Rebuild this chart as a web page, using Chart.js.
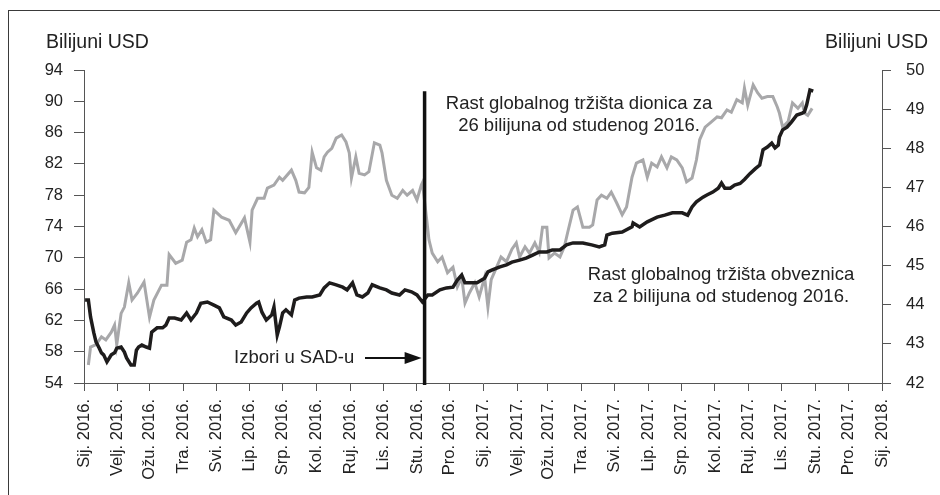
<!DOCTYPE html>
<html><head><meta charset="utf-8">
<script src="https://cdn.jsdelivr.net/npm/chart.js@4"></script>
<style>
html,body{margin:0;padding:0;background:#fff;overflow:hidden}
#wrap{position:relative;width:940px;height:495px;overflow:hidden}
#frame{position:absolute;left:8px;top:10px;width:1000px;height:600px;border:1.5px solid #3a3a3a;box-sizing:border-box}
canvas{position:absolute;left:0;top:0}
</style></head><body>
<div id="wrap"><div id="frame"></div><canvas id="c" width="940" height="495"></canvas></div>
<script>
// Month tick labels (Croatian) and their day offsets from 1 Jan 2016
const monthLabels = ["Sij. 2016.","Velj. 2016.","Ožu. 2016.","Tra. 2016.","Svi. 2016.","Lip. 2016.","Srp. 2016.","Kol. 2016.","Ruj. 2016.","Lis. 2016.","Stu. 2016.","Pro. 2016.",
  "Sij. 2017.","Velj. 2017.","Ožu. 2017.","Tra. 2017.","Svi. 2017.","Lip. 2017.","Srp. 2017.","Kol. 2017.","Ruj. 2017.","Lis. 2017.","Stu. 2017.","Pro. 2017.","Sij. 2018."];
const monthStartDays = [0,31,60,91,121,152,182,213,244,274,305,335,366,397,425,456,486,517,547,578,609,639,670,700,731];
const electionDay = 312; // 8 Nov 2016

// Global stock market (left axis, trillions USD)
const stockDays = [4,6,11,16,20,25,28,30,34,37,41,44,49,55,60,64,71,76,78,84,90,94,98,101,104,108,112,116,119,126,133,139,147,152,154,159,165,168,174,179,182,190,194,197,202,206,209,213,217,220,223,227,231,236,240,243,245,249,252,257,261,266,271,273,277,282,287,292,296,301,305,309,310,314,316,319,324,328,333,338,342,346,349,353,358,362,367,370,373,378,382,387,392,396,399,404,408,413,417,420,424,426,431,436,440,443,448,452,457,463,466,470,474,479,483,488,493,497,502,506,512,516,520,525,529,534,538,543,548,552,557,561,564,569,575,580,584,589,593,598,603,605,608,613,617,621,626,631,635,637,640,645,649,654,658,660,663,667];
const stockValues = [56.3,58.6,58.9,59.9,59.5,60.5,61.4,58.9,62.9,63.7,66.8,64.6,65.5,66.9,62.4,64.6,66.5,66.5,70.4,69.3,69.7,72.0,72.3,73.8,72.7,73.6,72.0,72.3,76.1,75.2,74.8,73.2,75.1,72.0,76.1,77.6,77.6,78.9,79.3,80.3,79.9,81.2,79.9,78.4,78.3,79.0,83.5,81.5,81.2,82.9,83.5,84.0,85.3,85.7,84.8,83.4,80.2,82.9,80.8,80.6,81.0,84.7,84.4,83.4,79.9,78.0,77.6,78.6,78.0,78.6,77.4,79.3,79.6,74.8,72.3,70.6,69.5,70.1,68.1,68.8,66.3,67.5,64.2,65.5,66.8,65.0,67.5,63.7,67.2,68.8,70.1,69.5,71.1,71.9,70.1,71.4,70.6,71.9,70.7,73.9,73.9,70.0,70.6,70.1,71.4,73.2,76.1,76.5,73.9,73.9,74.2,77.4,78.0,77.6,78.4,77.0,75.5,76.5,80.3,82.1,82.5,80.3,82.1,81.6,82.9,81.5,82.9,82.5,81.5,79.7,80.2,82.5,85.1,86.7,87.4,88.0,87.9,88.9,88.6,90.2,89.8,91.7,89.5,92.1,91.1,90.4,90.6,90.6,89.3,88.5,86.7,87.4,89.8,89.1,89.8,88.5,88.2,89.1];

// Global bond market (right axis, trillions USD)
const bondDays = [1,4,6,9,11,14,16,18,21,25,28,30,34,37,39,43,46,48,50,53,57,60,62,67,72,75,78,83,89,94,98,103,107,113,119,124,128,135,139,144,149,153,158,160,163,167,172,174,177,179,182,185,190,193,197,204,209,216,220,225,231,237,241,246,250,255,260,264,271,277,282,289,294,300,305,310,315,319,326,332,338,342,346,349,353,360,367,370,374,381,387,392,399,405,411,417,424,429,436,442,448,457,465,472,477,479,484,493,502,503,509,516,525,532,539,548,553,557,561,567,571,576,581,584,587,592,596,601,605,610,615,619,622,626,630,633,636,637,640,644,648,653,658,660,662,665,668];
const bondValues = [44.12,44.12,43.69,43.28,43.05,42.89,42.77,42.72,42.54,42.72,42.77,42.89,42.92,42.79,42.64,42.46,42.46,42.84,42.92,42.97,42.92,42.89,43.30,43.41,43.41,43.48,43.66,43.66,43.61,43.79,43.61,43.79,44.04,44.07,43.99,43.92,43.69,43.61,43.48,43.56,43.79,43.92,44.04,44.07,43.81,43.61,43.74,43.94,43.23,43.43,43.79,43.87,43.74,44.12,44.17,44.20,44.20,44.25,44.43,44.56,44.51,44.45,44.38,44.56,44.25,44.20,44.30,44.51,44.43,44.38,44.30,44.25,44.38,44.33,44.25,44.07,44.25,44.25,44.38,44.43,44.45,44.63,44.76,44.56,44.56,44.56,44.68,44.84,44.89,44.97,45.02,45.09,45.14,45.19,45.27,45.35,45.35,45.40,45.40,45.53,45.58,45.58,45.53,45.48,45.53,45.78,45.83,45.86,45.99,46.09,45.99,46.12,46.24,46.29,46.35,46.35,46.29,46.50,46.63,46.75,46.81,46.88,46.98,47.11,46.98,46.98,47.06,47.10,47.20,47.35,47.48,47.57,47.96,48.03,48.13,48.01,48.08,48.29,48.47,48.54,48.67,48.85,48.90,48.93,49.11,49.49,49.46];

if (stockDays.length !== stockValues.length) throw new Error('stock length mismatch ' + stockDays.length + ' ' + stockValues.length);
if (bondDays.length !== bondValues.length) throw new Error('bond length mismatch ' + bondDays.length + ' ' + bondValues.length);

const FONT = '"Liberation Sans", Arial, Helvetica, sans-serif';
const TXT = '#222';
const AX = '#555';

const annot = {
  id: 'annot',
  afterDatasetsDraw(chart) {
    const ctx = chart.ctx, xs = chart.scales.x, yL = chart.scales.yL;
    const ex = xs.getPixelForValue(electionDay);
    ctx.save();
    ctx.strokeStyle = '#111';
    ctx.lineWidth = 3.5;
    ctx.beginPath();
    ctx.moveTo(ex, yL.getPixelForValue(91.3));
    ctx.lineTo(ex, chart.chartArea.bottom + 2);
    ctx.stroke();
    // arrow pointing at the election line
    const ay = yL.getPixelForValue(57.2);
    const tip = ex - 3;
    ctx.lineWidth = 2;
    ctx.beginPath();
    ctx.moveTo(365, ay);
    ctx.lineTo(tip - 12, ay);
    ctx.stroke();
    ctx.fillStyle = '#111';
    ctx.beginPath();
    ctx.moveTo(tip, ay);
    ctx.lineTo(tip - 17, ay - 6);
    ctx.lineTo(tip - 17, ay + 6);
    ctx.closePath();
    ctx.fill();
    ctx.restore();
  },
  afterDraw(chart) {
    const ctx = chart.ctx;
    ctx.save();
    ctx.fillStyle = TXT;
    ctx.textBaseline = 'middle';
    ctx.font = '19.5px ' + FONT;
    ctx.textAlign = 'left';
    ctx.fillText('Bilijuni USD', 46, 43);
    ctx.textAlign = 'right';
    ctx.fillText('Bilijuni USD', 928, 43);
    ctx.font = '18.5px ' + FONT;
    ctx.textAlign = 'left';
    ctx.fillText('Izbori u SAD-u', 234, 358);
    ctx.textAlign = 'center';
    ctx.fillText('Rast globalnog tržišta dionica za', 579, 104);
    ctx.fillText('26 bilijuna od studenog 2016.', 579, 126);
    ctx.fillText('Rast globalnog tržišta obveznica', 721, 275);
    ctx.fillText('za 2 bilijuna od studenog 2016.', 721, 297);
    ctx.restore();
  }
};

const toPts = (d, v) => d.map((x, i) => ({ x: x, y: v[i] }));

new Chart(document.getElementById('c'), {
  type: 'line',
  data: {
    datasets: [
      { label: 'Obveznice', data: toPts(bondDays, bondValues), yAxisID: 'yR', borderColor: '#1e1c1c', borderWidth: 3.5, pointRadius: 0, tension: 0, fill: false },
      { label: 'Dionice', data: toPts(stockDays, stockValues), yAxisID: 'yL', borderColor: '#a8a8aa', borderWidth: 3, pointRadius: 0, tension: 0, fill: false }
    ]
  },
  options: {
    responsive: false,
    animation: false,
    devicePixelRatio: 1,
    layout: { padding: { top: 70, left: 0, right: 0, bottom: 0 } },
    plugins: { legend: { display: false }, tooltip: { enabled: false } },
    scales: {
      x: {
        type: 'linear', min: 0, max: 731,
        afterBuildTicks(s) { s.ticks = monthStartDays.map(v => ({ value: v })); },
        afterFit(s) { s.height = 112; },
        ticks: {
          autoSkip: false, minRotation: 90, maxRotation: 90, padding: 8,
          color: TXT, font: { family: FONT, size: 16.5 },
          callback(v) { const i = monthStartDays.indexOf(v); return i >= 0 ? monthLabels[i] : ''; }
        },
        grid: { display: true, drawOnChartArea: false, drawTicks: true, tickLength: 8, color: AX, lineWidth: 1 },
        border: { display: true, color: AX, width: 1 }
      },
      yL: {
        type: 'linear', position: 'left', min: 54, max: 94,
        afterFit(s) { s.width = 84; },
        ticks: { stepSize: 4, padding: 11, color: TXT, font: { family: FONT, size: 16.5 } },
        grid: { display: true, drawOnChartArea: false, drawTicks: true, tickLength: 10, color: AX, lineWidth: 1 },
        border: { display: true, color: AX, width: 1 }
      },
      yR: {
        type: 'linear', position: 'right', min: 42, max: 50,
        afterFit(s) { s.width = 58; },
        ticks: { stepSize: 1, padding: 15, color: TXT, font: { family: FONT, size: 16.5 } },
        grid: { display: true, drawOnChartArea: false, drawTicks: true, tickLength: 9, color: AX, lineWidth: 1 },
        border: { display: true, color: AX, width: 1 }
      }
    }
  },
  plugins: [annot]
});
</script>
</body></html>
